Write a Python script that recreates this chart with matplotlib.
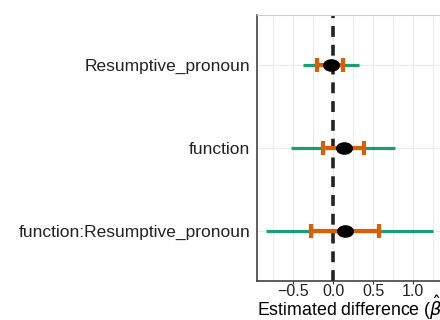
import matplotlib
matplotlib.use("Agg")
import matplotlib.pyplot as plt
from matplotlib.path import Path
from matplotlib.transforms import Affine2D
import numpy as np

plt.rcParams['font.family'] = ['Liberation Sans', 'DejaVu Sans']

terms = ["Resumptive_pronoun", "function", "function:Resumptive_pronoun"]
estimate = [-0.03, 0.14, 0.15]
ci95_low = [-0.37, -0.52, -0.84]
ci95_high = [0.33, 0.78, 1.25]
ci50_low = [-0.20, -0.12, -0.28]
ci50_high = [0.13, 0.39, 0.58]
x_ticks = [-0.5, 0.0, 0.5, 1.0]
x_tick_labels = ["\u22120.5", "0.0", "0.5", "1.0"]

W, H = 440, 320
fig = plt.figure(figsize=(W / 100, H / 100), dpi=100)
left_px, right_px, top_px, bottom_px = 257, 447, 15, 281
ax = fig.add_axes([left_px / W, 1 - bottom_px / H, (right_px - left_px) / W, (bottom_px - top_px) / H])

ypos = np.arange(len(terms))[::-1] + 1  # top to bottom

green = "#1b9e77"
orange = "#d95f02"

ax.hlines(ypos, ci95_low, ci95_high, color=green, lw=2.3, zorder=3)
ax.hlines(ypos, ci50_low, ci50_high, color=orange, lw=3.0, zorder=4)
cap_half = 0.085
for y, lo, hi in zip(ypos, ci50_low, ci50_high):
    ax.vlines([lo, hi], y - cap_half, y + cap_half, color=orange, lw=3.0, zorder=4)

ell = Path.unit_circle().transformed(Affine2D().scale(1.35, 1.0))
ax.scatter(estimate, ypos, marker=ell, s=150, color="black", zorder=5, linewidths=0)

ax.axvline(0, color="#222222", lw=2.6, ls=(0, (3, 2.2)), zorder=2)

ax.set_xlim(-0.95, 1.425)
ax.set_ylim(0.4, 3.6)
ax.set_yticks(ypos)
ax.set_yticklabels(terms, fontsize=12.5, color="#222222")
ax.set_xticks(x_ticks)
ax.set_xticklabels(x_tick_labels, fontsize=11.5, color="#222222")
ax.set_xticks(np.arange(-0.75, 1.5, 0.5), minor=True)
ax.tick_params(axis='y', length=0, pad=5)
ax.tick_params(axis='x', which='major', length=2, width=0.8, color="#333333", pad=0)
ax.tick_params(axis='x', which='minor', length=0)
ax.grid(True, which='major', color="#ebebeb", lw=0.8, zorder=0)
ax.grid(True, which='minor', axis='x', color="#ebebeb", lw=0.8, zorder=0)
ax.set_axisbelow(True)

ax.spines["right"].set_visible(False)
ax.spines["top"].set_color("#cccccc")
ax.spines["top"].set_linewidth(0.8)
ax.spines["left"].set_color("#333333")
ax.spines["left"].set_linewidth(1.1)
ax.spines["bottom"].set_color("#333333")
ax.spines["bottom"].set_linewidth(1.1)

ax.set_xlabel("Estimated difference ($\\hat{\\beta}$)", fontsize=12.8, va="baseline")
ax.xaxis.set_label_coords(0.5, (bottom_px - 316.5) / (bottom_px - top_px))

fig.savefig("out.png", dpi=100)
